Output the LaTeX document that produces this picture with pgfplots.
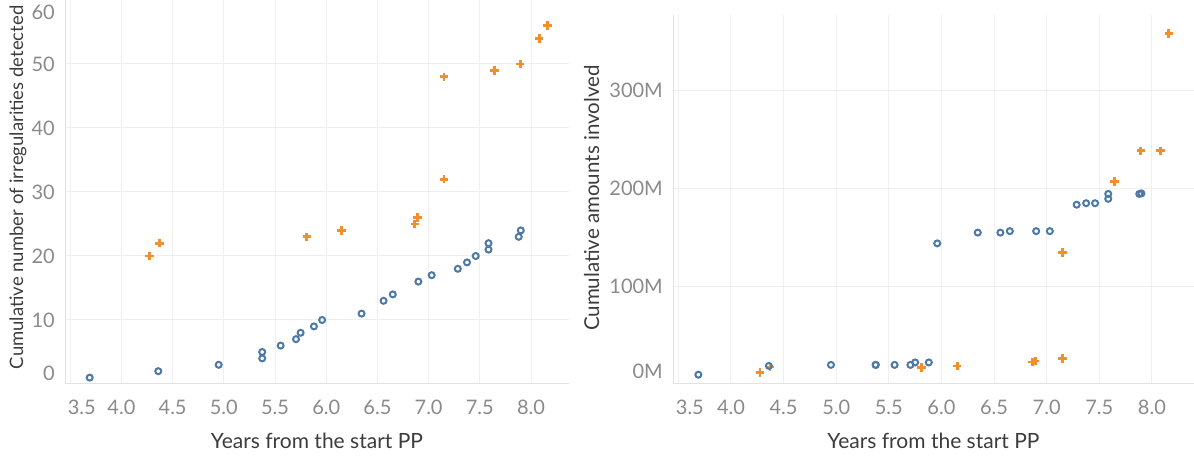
\documentclass[border=0pt]{standalone}
\usepackage{fontspec}
\setmainfont{Lato}
\usepackage{pgfplots}
\usepackage{pgfplotstable}
\pgfplotsset{compat=1.18}
\definecolor{tblue}{HTML}{4E79A7}
\definecolor{torange}{HTML}{F28E2B}
\definecolor{gridc}{HTML}{EFEFEF}
\definecolor{axisc}{HTML}{E2E2E2}
\definecolor{tickc}{HTML}{8A8A8A}
\definecolor{labc}{HTML}{3C3C3C}

% x = years, n = cumulative number, m = cumulative amount (millions)
\pgfplotstableread{
x      n   m
3.69   1   9.5
4.36   2   18.5
4.95   3   19.5
5.375  4   19.5
5.375  5   19.5
5.555  6   19.5
5.705  7   19.5
5.75   8   22
5.88   9   22
5.96   10  143.5
6.345  11  154.5
6.56   13  154.5
6.65   14  156
6.90   16  156
7.03   17  156
7.285  18  183
7.375  19  184.5
7.46   20  184.5
7.585  21  189
7.585  22  194
7.88   23  194
7.90   24  194.5
}\blueTable

\pgfplotstableread{
x      n   m
4.275  20  11.9
4.37   22  17.3
5.81   23  17.0
6.15   24  18.4
6.865  25  22.4
6.89   26  23.5
7.15   32  25.9
7.15   48  134
7.645  49  206.5
7.895  50  238
8.08   54  238
8.16   56  357.5
}\orangeTable

\pgfplotsset{
  tabstyle/.style={
    scale only axis,
    anchor=south west,
    clip=false,
    axis x line*=bottom, axis y line*=left,
    axis line style={draw=axisc, line width=1pt, -},
    grid=major,
    major grid style={draw=gridc, line width=1pt},
    tick style={draw=none},
    xmin=3.449,
    xtick={3.5,4,4.5,5,5.5,6,6.5,7,7.5,8},
    /pgf/number format/assume math mode=true,
    xticklabel={\ifnum\ticknum=0\hspace*{23pt}\fi\pgfmathprintnumber[fixed,fixed zerofill,precision=1]{\tick}},
    x tick label style={anchor=center, yshift=-23pt, inner sep=0pt,
      font=\fontsize{20}{20}\selectfont, text=tickc},
    y tick label style={anchor=east, xshift=-10pt, inner sep=0pt,
      font=\fontsize{20}{20}\selectfont, text=tickc},
    xlabel={Years from the start PP},
    xlabel style={at={(axis description cs:0.5,0)}, anchor=center, yshift=-57pt,
      font=\fontsize{21}{21}\selectfont, text=labc},
    ylabel style={anchor=center, text=labc},
  },
  bluemark/.style={only marks, mark=o, mark size=3pt, line width=2pt, color=tblue},
  orangemark/.style={only marks, mark=+, mark size=4.2pt, line width=2.8pt, color=torange},
}

\begin{document}
\begin{tikzpicture}
\begin{axis}[tabstyle,
  at={(65pt,73pt)}, width=504pt, height=384pt,
  xmax=8.371, ymin=0, ymax=60,
  ytick={0,10,20,30,40,50,60},
  yticklabel={\ifnum\ticknum=0 \raisebox{11pt}[\height][\depth]{\pgfmathprintnumber{\tick}}\else\ifnum\ticknum=6 \raisebox{-12pt}[\height][\depth]{\pgfmathprintnumber{\tick}}\else\pgfmathprintnumber{\tick}\fi\fi},
  ylabel={Cumulative number of irregularities detected},
  ylabel style={at={(axis description cs:-0.0933,0.512)}, font=\fontsize{18.5}{18.5}\selectfont},
]
\addplot[orangemark] table[x=x, y=n] {\orangeTable};
\addplot[bluemark] table[x=x, y=n] {\blueTable};
\end{axis}

\begin{axis}[tabstyle,
  at={(673pt,73pt)}, width=521pt, height=369.4pt,
  xmax=8.40, ymin=0, ymax=377,
  ytick={0,100,200,300},
  yticklabel={\ifnum\ticknum=0 \raisebox{13pt}[\height][\depth]{\pgfmathprintnumber{\tick}M}\else\pgfmathprintnumber{\tick}M\fi},
  ylabel={Cumulative amounts involved},
  ylabel style={at={(axis description cs:-0.156,0.503)}, font=\fontsize{20.5}{20.5}\selectfont},
]
\addplot[orangemark] table[x=x, y=m] {\orangeTable};
\addplot[bluemark] table[x=x, y=m] {\blueTable};
\end{axis}
\pgfresetboundingbox
\useasboundingbox (0,0) rectangle (1194pt,457pt);
\end{tikzpicture}
\end{document}
